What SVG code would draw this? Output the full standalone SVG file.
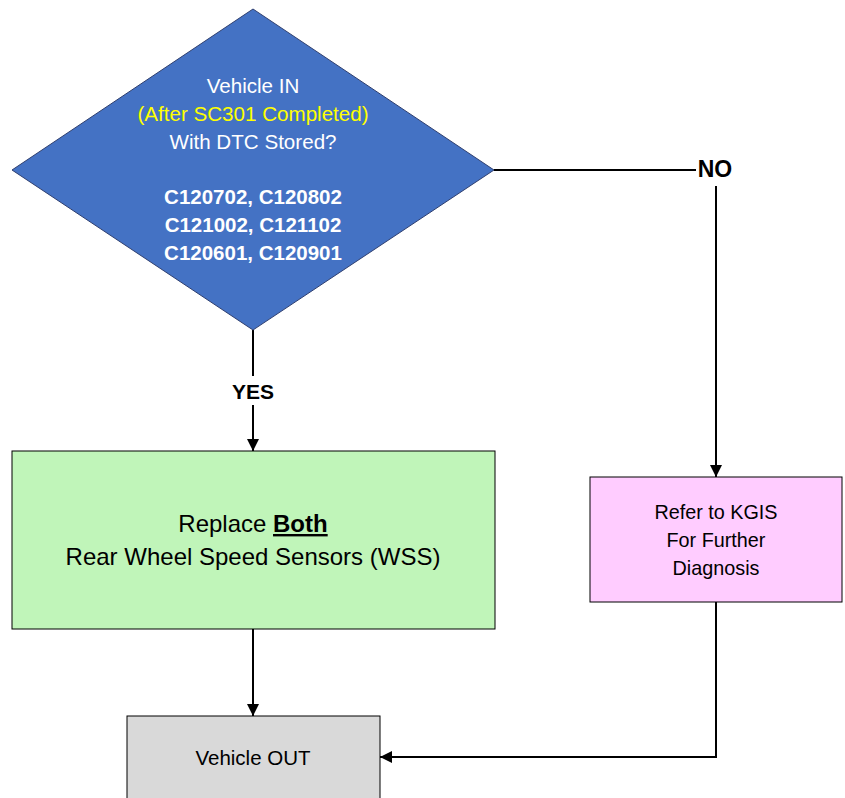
<svg xmlns="http://www.w3.org/2000/svg" width="845" height="798" viewBox="0 0 845 798">
<defs>
<style>
.t{font-family:"Liberation Sans",Arial,sans-serif;text-anchor:middle}
.w{fill:#FFFFFF}
.b{font-weight:bold}
.k{fill:#000000}
.ln{stroke:#000;stroke-width:2;fill:none}
</style>
<marker id="ah" viewBox="0 0 12 12" refX="12" refY="6" markerWidth="12" markerHeight="12" markerUnits="userSpaceOnUse" orient="auto">
<path d="M0,0 L12,6 L0,12 Z" fill="#000"/>
</marker>
</defs>
<rect width="845" height="798" fill="#FFFFFF"/>
<g id="connectors">
<path class="ln" d="M494,170 L696,170"/>
<path class="ln" d="M716,186 L716,477" marker-end="url(#ah)"/>
<path class="ln" d="M253,330 L253,376"/>
<path class="ln" d="M253,405 L253,451" marker-end="url(#ah)"/>
<path class="ln" d="M253,629 L253,716" marker-end="url(#ah)"/>
<path class="ln" d="M716,602 L716,757 L380,757" marker-end="url(#ah)"/>
<text class="t b k" x="715" y="177" font-size="23">NO</text>
<text class="t b k" x="253" y="399" font-size="21">YES</text>
</g>
<g id="decision">
<polygon points="253,9 494,170 253,330 12,170" fill="#4472C4" stroke="#2F3F6F" stroke-width="1"/>
<text class="t w" x="253" y="93" font-size="20.6">Vehicle IN</text>
<text class="t" x="253" y="121" font-size="20.6" fill="#FFFF00">(After SC301 Completed)</text>
<text class="t w" x="253" y="149" font-size="20.6">With DTC Stored?</text>
<text class="t w b" x="253" y="204" font-size="20.5">C120702, C120802</text>
<text class="t w b" x="253" y="232" font-size="20.5">C121002, C121102</text>
<text class="t w b" x="253" y="260" font-size="20.5">C120601, C120901</text>
</g>
<g id="replace">
<rect x="12" y="451" width="483" height="178" fill="#C0F5B9" stroke="#000" stroke-width="1"/>
<text class="t k" x="253" y="532" font-size="24">Replace <tspan font-weight="bold" text-decoration="underline">Both</tspan></text>
<text class="t k" x="253" y="565" font-size="24">Rear Wheel Speed Sensors (WSS)</text>
</g>
<g id="refer">
<rect x="590" y="477" width="252" height="125" fill="#FFCCFF" stroke="#000" stroke-width="1"/>
<text class="t k" x="716" y="519" font-size="19.8">Refer to KGIS</text>
<text class="t k" x="716" y="547" font-size="19.8">For Further</text>
<text class="t k" x="716" y="575" font-size="19.8">Diagnosis</text>
</g>
<g id="out">
<rect x="127" y="716" width="253" height="90" fill="#D9D9D9" stroke="#000" stroke-width="1"/>
<text class="t k" x="253" y="765" font-size="20.5">Vehicle OUT</text>
</g>
</svg>
